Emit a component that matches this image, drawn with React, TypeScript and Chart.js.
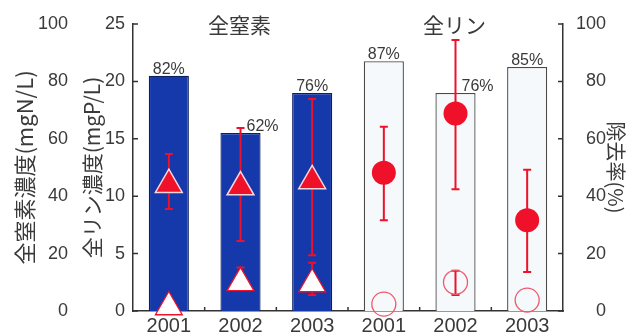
import { useEffect, useRef } from 'react';
import { Chart, registerables } from 'chart.js';

Chart.register(...registerables);

// ---- data ----
const categories = ['2001', '2002', '2003', '2001', '2002', '2003'];
const removalRate = [82, 62, 76, 87, 76, 85];

const nInfluent = [44, 43.2, 45.3, null, null, null];
const nInfluentLow = [35.5, 24.4, 19.4, null, null, null];
const nInfluentHigh = [54.7, 63.8, 73.9, null, null, null];

const nEffluent = [1.4, 9.8, 9.4, null, null, null];
const nEffluentLow = [null, 8, 5.6, null, null, null];
const nEffluentHigh = [null, 15.2, 16.8, null, null, null];

const pInfluent = [null, null, null, 12.05, 17.2, 7.9];
const pInfluentLow = [null, null, null, 7.9, 10.6, 3.4];
const pInfluentHigh = [null, null, null, 16.05, 23.6, 12.3];

const pEffluent = [null, null, null, 0.6, 2.5, 0.95];
const pEffluentLow = [null, null, null, null, 1.4, null];
const pEffluentHigh = [null, null, null, null, 3.5, null];

const nTicks = [0, 20, 40, 60, 80, 100];
const pTicks = [0, 5, 10, 15, 20, 25];
const rateTicks = [0, 20, 40, 60, 80, 100];

const groupTitles = ['全窒素', '全リン'];
const groupMembers = [[0, 1, 2], [3, 4, 5]];

const nAxisTitle = '全窒素濃度(mgN/L)';
const pAxisTitle = '全リン濃度(mgP/L)';
const rateAxisTitle = '除去率(%)';

// ---- styles ----
const RED = '#ee1129';
const BLUE = '#1538aa';
const BLUE_EDGE = '#0e1f60';
const PALE = '#f5f9fb';
const PALE_EDGE = '#4a4a4a';
const AXIS = '#333333';
const TEXT = '#3a3a3a';
const LATIN = "'Liberation Sans', Arial, sans-serif";
const CJK = "'Noto Sans CJK JP', 'Noto Sans', sans-serif";

const errorSeries = [
  { low: nInfluentLow, high: nInfluentHigh, axis: 'yN' },
  { low: nEffluentLow, high: nEffluentHigh, axis: 'yN' },
  { low: pInfluentLow, high: pInfluentHigh, axis: 'yP' },
  { low: pEffluentLow, high: pEffluentHigh, axis: 'yP' },
];

const decorPlugin = {
  id: 'decor',
  afterDatasetDraw(chart: any, args: any) {
    if (args.index !== 0) return;
    const ctx = chart.ctx;
    const x = chart.scales.x;
    ctx.save();
    ctx.strokeStyle = RED;
    ctx.lineWidth = 2;
    const cap = 4;
    errorSeries.forEach((s) => {
      const sc = chart.scales[s.axis];
      categories.forEach((_, i) => {
        const lo = s.low[i];
        const hi = s.high[i];
        if (lo == null && hi == null) return;
        const px = x.getPixelForValue(i);
        const yLo = sc.getPixelForValue(lo == null ? hi : lo);
        const yHi = sc.getPixelForValue(hi == null ? lo : hi);
        ctx.beginPath();
        ctx.moveTo(px, yLo);
        ctx.lineTo(px, yHi);
        if (lo != null) {
          ctx.moveTo(px - cap, yLo);
          ctx.lineTo(px + cap, yLo);
        }
        if (hi != null) {
          ctx.moveTo(px - cap, yHi);
          ctx.lineTo(px + cap, yHi);
        }
        ctx.stroke();
      });
    });
    ctx.restore();
  },
  afterDraw(chart: any) {
    const ctx = chart.ctx;
    const { left, right, bottom } = chart.chartArea;
    const x = chart.scales.x;
    const yP = chart.scales.yP;
    const yR = chart.scales.yR;
    ctx.save();
    // inward tick marks
    ctx.strokeStyle = AXIS;
    ctx.lineWidth = 1.5;
    ctx.beginPath();
    for (let i = 1; i < categories.length; i++) {
      const bx = (x.getPixelForValue(i - 1) + x.getPixelForValue(i)) / 2;
      ctx.moveTo(bx, bottom);
      ctx.lineTo(bx, bottom - 4);
    }
    pTicks.forEach((v) => {
      const py = yP.getPixelForValue(v);
      ctx.moveTo(left, py);
      ctx.lineTo(left + 5, py);
    });
    rateTicks.forEach((v) => {
      const py = yR.getPixelForValue(v);
      ctx.moveTo(right, py);
      ctx.lineTo(right - 5, py);
    });
    ctx.stroke();

    // percentage labels
    const meta = chart.getDatasetMeta(0);
    ctx.fillStyle = TEXT;
    ctx.font = `16px ${LATIN}`;
    ctx.textBaseline = 'alphabetic';
    meta.data.forEach((bar: any, i: number) => {
      let topErr = Infinity;
      errorSeries.forEach((s) => {
        const hi = s.high[i];
        if (hi != null) topErr = Math.min(topErr, chart.scales[s.axis].getPixelForValue(hi));
      });
      const label = `${removalRate[i]}%`;
      if (topErr < bar.y + 2) {
        ctx.textAlign = 'left';
        ctx.fillText(label, bar.x + 6, bar.y - 2);
      } else {
        ctx.textAlign = 'center';
        ctx.fillText(label, bar.x, bar.y - 2);
      }
    });

    // group titles
    ctx.font = `21px ${CJK}`;
    ctx.textAlign = 'center';
    ctx.textBaseline = 'middle';
    ctx.fillStyle = TEXT;
    groupTitles.forEach((t, g) => {
      const idx = groupMembers[g];
      const cx = idx.reduce((a, i) => a + x.getPixelForValue(i), 0) / idx.length;
      ctx.fillText(t, cx - 1, 25);
    });
    ctx.restore();
  },
};

export default function App() {
  const ref = useRef<HTMLCanvasElement>(null);

  useEffect(() => {
    if (!ref.current) return;
    const chart = new Chart(ref.current, {
      type: 'bar',
      data: {
        labels: categories,
        datasets: [
          {
            type: 'bar',
            label: '除去率',
            data: removalRate,
            yAxisID: 'yR',
            backgroundColor: categories.map((_, i) => (i < 3 ? BLUE : PALE)),
            borderColor: categories.map((_, i) => (i < 3 ? BLUE_EDGE : PALE_EDGE)),
            borderWidth: 1.3,
            barPercentage: 0.56,
            categoryPercentage: 1,
            order: 3,
          },
          {
            type: 'line',
            label: '全窒素 流入',
            data: nInfluent,
            yAxisID: 'yN',
            showLine: false,
            pointStyle: 'triangle',
            pointRadius: 15.5,
            backgroundColor: RED,
            borderColor: '#ffd6dc',
            borderWidth: 1.5,
            clip: false,
            order: 1,
          },
          {
            type: 'line',
            label: '全窒素 流出',
            data: nEffluent,
            yAxisID: 'yN',
            showLine: false,
            pointStyle: 'triangle',
            pointRadius: 15.5,
            backgroundColor: '#ffffff',
            borderColor: RED,
            borderWidth: 1.3,
            clip: false,
            order: 1,
          },
          {
            type: 'line',
            label: '全リン 流入',
            data: pInfluent,
            yAxisID: 'yP',
            showLine: false,
            pointStyle: 'circle',
            pointRadius: 12,
            backgroundColor: RED,
            borderColor: RED,
            borderWidth: 0,
            clip: false,
            order: 1,
          },
          {
            type: 'line',
            label: '全リン 流出',
            data: pEffluent,
            yAxisID: 'yP',
            showLine: false,
            pointStyle: 'circle',
            pointRadius: 12,
            backgroundColor: 'rgba(0,0,0,0)',
            borderColor: '#ef5a6a',
            borderWidth: 1.3,
            clip: false,
            order: 1,
          },
        ] as any,
      },
      options: {
        animation: false,
        responsive: true,
        maintainAspectRatio: false,
        layout: { padding: { left: 0, right: 29, top: 24, bottom: 0 } },
        plugins: {
          legend: { display: false },
          tooltip: { enabled: false },
        },
        scales: {
          x: {
            type: 'category',
            offset: true,
            grid: { display: false, drawTicks: false },
            border: { display: true, color: AXIS, width: 1.5 },
            ticks: {
              font: { family: LATIN, size: 20 },
              color: TEXT,
              padding: 3,
              maxRotation: 0,
              autoSkip: false,
            },
            afterFit: (s: any) => {
              s.height = 25;
            },
          },
          yN: {
            position: 'left',
            weight: 1,
            min: 0,
            max: 100,
            grid: { display: false, drawTicks: false },
            border: { display: false },
            afterBuildTicks: (s: any) => {
              s.ticks = nTicks.map((v) => ({ value: v }));
            },
            ticks: { font: { family: LATIN, size: 18 }, color: TEXT, padding: 8 },
            title: {
              display: true,
              text: nAxisTitle,
              font: { family: CJK, size: 22 },
              color: TEXT,
              padding: { top: 11, bottom: 0 },
            },
            afterFit: (s: any) => {
              s.width = 76;
            },
          },
          yP: {
            position: 'left',
            weight: 0,
            min: 0,
            max: 25,
            grid: { display: false, drawTicks: false },
            border: { display: true, color: AXIS, width: 1.5 },
            afterBuildTicks: (s: any) => {
              s.ticks = pTicks.map((v) => ({ value: v }));
            },
            ticks: { font: { family: LATIN, size: 18 }, color: TEXT, padding: 8 },
            title: {
              display: true,
              text: pAxisTitle,
              font: { family: CJK, size: 21 },
              color: TEXT,
              padding: { top: 3, bottom: 0 },
            },
            afterFit: (s: any) => {
              s.width = 57;
            },
          },
          yR: {
            position: 'right',
            min: 0,
            max: 100,
            grid: { display: false, drawTicks: false },
            border: { display: true, color: AXIS, width: 1.5 },
            afterBuildTicks: (s: any) => {
              s.ticks = rateTicks.map((v) => ({ value: v }));
            },
            ticks: { font: { family: LATIN, size: 18 }, color: TEXT, padding: 5, crossAlign: 'far' },
            title: {
              display: true,
              text: rateAxisTitle,
              font: { family: CJK, size: 20 },
              color: TEXT,
              padding: { top: -22, bottom: 0 },
            },
            afterFit: (s: any) => {
              s.width = 43;
            },
          },
        },
      } as any,
      plugins: [decorPlugin],
    });
    return () => chart.destroy();
  }, []);

  return (
    <div style={{ position: 'fixed', left: 0, top: 0, width: 635, height: 336, background: '#ffffff' }}>
      <canvas ref={ref} />
    </div>
  );
}
